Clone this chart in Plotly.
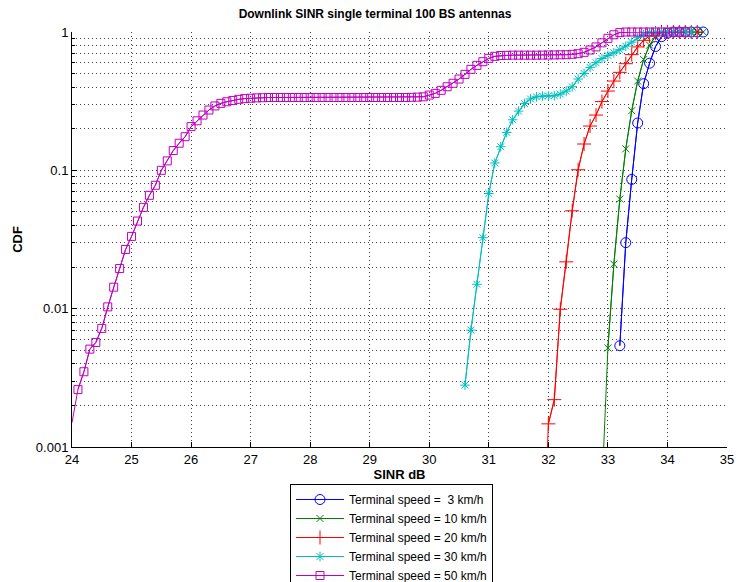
import numpy as np
import plotly.graph_objects as go

# ---------------- data ----------------
SPEED_LABELS = ["Terminal speed = \u00a03 km/h", "Terminal speed = 10 km/h",
                "Terminal speed = 20 km/h", "Terminal speed = 30 km/h",
                "Terminal speed = 50 km/h"]

# SINR grid start (dB); CDF sampled every 0.1 dB
SINR_STEP = 0.1

START_3 = 33.2
CDF_3 = [0.0054, 0.030, 0.086, 0.220, 0.423, 0.595, 0.785, 0.925, 0.980,
         1.0, 1.0, 1.0, 1.0, 1.0, 1.0]

START_10 = 32.9
CDF_10 = [0.0005, 0.0052, 0.021, 0.062, 0.143, 0.270, 0.442, 0.632, 0.803,
          0.933, 0.985, 1.0, 1.0, 1.0, 1.0, 1.0, 1.0, 1.0]

START_20 = 31.9
CDF_20 = [0.00011, 0.00147, 0.0022, 0.0099, 0.0218, 0.051, 0.101, 0.155,
          0.209, 0.251, 0.314, 0.374, 0.442, 0.511, 0.590, 0.686, 0.780,
          0.870, 0.935, 0.980, 1.0, 1.0, 1.0, 1.0, 1.0, 1.0, 1.0]

START_30 = 30.6
CDF_30 = [0.0028, 0.0070, 0.0150, 0.0326, 0.068, 0.113, 0.148, 0.188, 0.232,
          0.268, 0.304, 0.328, 0.340, 0.344, 0.345, 0.346, 0.356, 0.374,
          0.402, 0.457, 0.502, 0.555, 0.600, 0.643, 0.676, 0.708, 0.745,
          0.790, 0.845, 0.910, 0.960, 0.990, 1.0, 1.0, 1.0, 1.0, 1.0, 1.0,
          1.0]

START_50 = 24.0
CDF_50 = [0.0015, 0.0026, 0.0035, 0.0051, 0.0057, 0.0072, 0.0103, 0.0143,
          0.0195, 0.0268, 0.0333, 0.043, 0.054, 0.066, 0.078, 0.100, 0.117,
          0.139, 0.157, 0.175, 0.207, 0.228, 0.251, 0.273, 0.292, 0.305,
          0.313, 0.320, 0.326, 0.330, 0.332, 0.334, 0.335, 0.336, 0.336,
          0.336, 0.336, 0.336, 0.336, 0.336, 0.336, 0.336, 0.336, 0.336,
          0.336, 0.336, 0.336, 0.336, 0.336, 0.336, 0.336, 0.336, 0.336,
          0.336, 0.336, 0.336, 0.336, 0.337, 0.338, 0.340, 0.350, 0.360,
          0.379, 0.402, 0.426, 0.457, 0.494, 0.537, 0.574, 0.610, 0.645,
          0.667, 0.676, 0.678, 0.680, 0.680, 0.680, 0.680, 0.680, 0.681,
          0.682, 0.683, 0.684, 0.685, 0.690, 0.697, 0.713, 0.741, 0.780,
          0.835, 0.900, 0.955, 0.990, 1.0, 1.0, 1.0, 1.0, 1.0, 1.0, 1.0,
          1.0, 1.0, 1.0, 1.0]

X_TICKS = [24, 25, 26, 27, 28, 29, 30, 31, 32, 33, 34, 35]
Y_TICKS = [0.001, 0.01, 0.1, 1]
Y_TICKTEXT = ["0.001", "0.01", "0.1", "1"]
Y_MINOR = [m * d for d in (0.001, 0.01, 0.1) for m in range(2, 10)]

X_RANGE = [24, 35]
Y_MIN = 0.001

# ---------------- styles ----------------
COLORS = ["#0000FF", "#008000", "#FF0000", "#00BFBF", "#BF00BF"]
SYMBOLS = ["circle-open", "x-thin-open", "cross-thin-open", "asterisk-open", "square-open"]
SIZES = [10, 7, 10, 8, 8]

series = [(START_3, CDF_3), (START_10, CDF_10), (START_20, CDF_20),
          (START_30, CDF_30), (START_50, CDF_50)]

FONT = "Liberation Sans, Arial, sans-serif"

fig = go.Figure()
for i, (start, cdf) in enumerate(series):
    y = np.array(cdf)
    x = np.round(start + SINR_STEP * np.arange(len(y)), 2)
    # full line (clipped by plot area)
    fig.add_trace(go.Scatter(x=x, y=y, mode="lines",
                             line=dict(color=COLORS[i], width=1),
                             showlegend=False, hoverinfo="skip"))
    # markers for points strictly inside the axes
    keep = (x > X_RANGE[0] + 1e-6) & (y >= Y_MIN)
    fig.add_trace(go.Scatter(x=x[keep], y=y[keep], mode="lines+markers",
                             name=SPEED_LABELS[i],
                             line=dict(color=COLORS[i], width=1),
                             marker=dict(symbol=SYMBOLS[i], size=SIZES[i],
                                         color=COLORS[i],
                                         line=dict(color=COLORS[i], width=1)),
                             cliponaxis=False))

grid_col = "rgba(0,0,0,0.75)"
fig.update_layout(
    width=737, height=582,
    margin=dict(l=72, r=10, t=32, b=135, autoexpand=False),
    paper_bgcolor="white", plot_bgcolor="white",
    font=dict(family=FONT, size=13, color="black"),
    title=dict(text="<b>Downlink SINR single terminal 100 BS antennas</b>",
               x=375 / 737, xanchor="center", y=1 - 14 / 582, yanchor="middle",
               font=dict(size=12, family=FONT)),
    xaxis=dict(range=X_RANGE, tickmode="array", tickvals=X_TICKS,
               ticks="inside", ticklen=5, tickcolor="black",
               showline=True, linecolor="black", linewidth=1,
               showgrid=True, gridcolor=grid_col, griddash="1px,3px", gridwidth=1,
               zeroline=False, tickfont=dict(size=13),
               title=dict(text="<b>SINR dB</b>", font=dict(size=13), standoff=3)),
    yaxis=dict(type="log", range=[-3, 0], tickmode="array", tickvals=Y_TICKS,
               ticktext=Y_TICKTEXT, ticks="inside", ticklen=5, tickcolor="black",
               showline=True, linecolor="black", linewidth=1,
               showgrid=True, gridcolor=grid_col, griddash="1px,3px", gridwidth=1,
               zeroline=False, tickfont=dict(size=13),
               minor=dict(tickvals=Y_MINOR, ticks="inside", ticklen=3,
                          tickcolor="black", showgrid=True, gridcolor=grid_col,
                          griddash="1px,3px", gridwidth=1),
               title=dict(text="<b>CDF</b>", font=dict(size=13), standoff=10)),
    legend=dict(x=(290 - 72) / 655, xanchor="left",
                y=(447 - 484) / 415, yanchor="top",
                bgcolor="white", bordercolor="black", borderwidth=1,
                font=dict(size=12, family=FONT), itemwidth=48,
                tracegroupgap=0),
)

fig.write_html("out.html")
